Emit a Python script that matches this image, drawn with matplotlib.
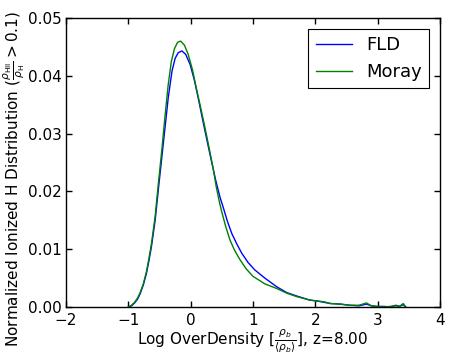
import matplotlib
matplotlib.use("Agg")
import matplotlib.pyplot as plt

fld_x = [-1.00, -0.95, -0.90, -0.85, -0.81, -0.76, -0.71, -0.67, -0.63, -0.57,
         -0.52, -0.46, -0.40, -0.36, -0.30, -0.25, -0.20, -0.14, -0.08, -0.01,
         0.06, 0.12, 0.19, 0.26, 0.33, 0.40, 0.47, 0.52, 0.59, 0.66,
         0.74, 0.82, 0.92, 1.03, 1.19, 1.38, 1.54, 1.70, 1.91, 2.05,
         2.24, 2.40, 2.55, 2.70, 2.82, 2.90, 2.98, 3.10, 3.20, 3.29,
         3.35, 3.41, 3.45]
fld_y = [0.0000, 0.0002, 0.0007, 0.0014, 0.0023, 0.0038, 0.0058, 0.0080, 0.0104, 0.0150,
         0.0202, 0.0262, 0.0322, 0.0362, 0.0408, 0.0430, 0.0440, 0.0443, 0.0437, 0.0420,
         0.0392, 0.0362, 0.0325, 0.0289, 0.0254, 0.0220, 0.0190, 0.0173, 0.0148, 0.0127,
         0.0109, 0.0093, 0.0077, 0.0064, 0.0050, 0.0035, 0.0025, 0.0019, 0.0012, 0.0010,
         0.0006, 0.0005, 0.0003, 0.0002, 0.0005, 0.0002, 0.0001, 0.0001, 0.0000, 0.0003,
         0.0001, 0.0004, 0.0000]

moray_x = [-1.00, -0.95, -0.90, -0.85, -0.81, -0.76, -0.71, -0.67, -0.63, -0.57,
           -0.52, -0.46, -0.41, -0.36, -0.31, -0.26, -0.21, -0.16, -0.10, -0.04,
           0.03, 0.09, 0.16, 0.23, 0.30, 0.36, 0.41, 0.46, 0.50, 0.56,
           0.63, 0.70, 0.79, 0.89, 1.00, 1.19, 1.38, 1.54, 1.70, 1.91,
           2.05, 2.14, 2.24, 2.40, 2.55, 2.70, 2.82, 2.90, 2.98, 3.10,
           3.29, 3.35, 3.41, 3.45]
moray_y = [0.0000, 0.0003, 0.0008, 0.0016, 0.0025, 0.0040, 0.0061, 0.0084, 0.0109, 0.0157,
           0.0212, 0.0275, 0.0332, 0.0385, 0.0425, 0.0447, 0.0458, 0.0460, 0.0453, 0.0437,
           0.0410, 0.0379, 0.0345, 0.0310, 0.0273, 0.0240, 0.0208, 0.0182, 0.0164, 0.0140,
           0.0116, 0.0099, 0.0082, 0.0066, 0.0053, 0.0040, 0.0032, 0.0024, 0.0018, 0.0012,
           0.0010, 0.0009, 0.0006, 0.0005, 0.0003, 0.0003, 0.0007, 0.0002, 0.0001, 0.0000,
           0.0002, 0.0001, 0.0006, 0.0000]

x_ticks = [-2, -1, 0, 1, 2, 3, 4]
y_ticks = [0.00, 0.01, 0.02, 0.03, 0.04, 0.05]

fig = plt.figure(figsize=(4.5, 3.63), dpi=100)
ax = fig.add_axes([0.1467, 0.1543, 0.8311, 0.7961])
ax.plot(fld_x, fld_y, color=(0, 0, 1), lw=1.0, label="FLD")
ax.plot(moray_x, moray_y, color=(0, 0.5, 0), lw=1.0, label="Moray")
ax.set_xlim(-2, 4)
ax.set_ylim(0, 0.05)
ax.set_xticks(x_ticks)
ax.set_yticks(y_ticks)
ax.set_yticklabels(["%.2f" % v for v in y_ticks])
ax.set_xticklabels(["\u2212%d" % -v if v < 0 else "%d" % v for v in x_ticks])
ax.tick_params(direction="in", top=True, right=True, length=4, width=1, labelsize=11)
ax.tick_params(axis="x", pad=4)
ax.tick_params(axis="y", pad=3)
for s in ax.spines.values():
    s.set_linewidth(1.0)
ax.set_xlabel(r"Log OverDensity [$\frac{\rho_b}{\langle\rho_b\rangle}$], z=8.00", fontsize=11, labelpad=0)
ax.set_ylabel(r"Normalized Ionized H Distribution ($\frac{\rho_{\rm HII}}{\rho_{\rm H}}>0.1$)", fontsize=11)
ax.yaxis.set_label_coords(-0.104, 0.443)
leg = ax.legend(loc="upper right", fontsize=13, fancybox=False, framealpha=1, edgecolor="black",
                handlelength=2.0, borderaxespad=0.6)
leg.get_frame().set_linewidth(0.8)
fig.savefig("out.png", dpi=100)
